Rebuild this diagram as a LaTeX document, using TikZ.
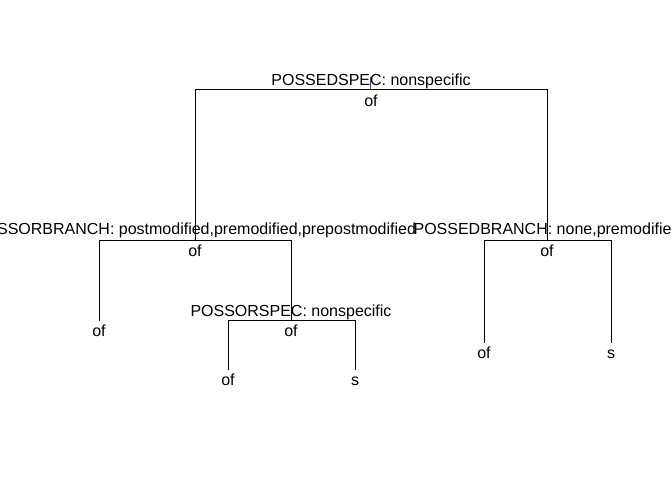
\documentclass[tikz,border=0pt]{standalone}
\usepackage{fontspec}
\setmainfont{Liberation Sans}
\definecolor{stemcol}{RGB}{100,50,150}
\begin{document}
\begin{tikzpicture}[x=1pt,y=-1pt,
  lbl/.style={anchor=base,inner sep=0pt,font=\fontsize{16}{16}\selectfont},
  edge/.style={draw=black,line width=1pt}]
\useasboundingbox (0,0) rectangle (672,480);
\clip (0,0) rectangle (672,480);
% junction coordinates
\coordinate (root) at (371,89);
\coordinate (rootstem) at (370,77);
\coordinate (rootstemb) at (370,89);
\coordinate (lc) at (195,240);
\coordinate (rc) at (547,240);
\coordinate (ll) at (99,320.5);
\coordinate (lr) at (291,320.5);
\coordinate (lrl) at (228,370);
\coordinate (lrr) at (355,370);
\coordinate (rl) at (484,343);
\coordinate (rr) at (611,343);
% connectors
\draw[edge] (root) -| (lc);
\draw[edge] (root) -| (rc);
\draw[edge] (lc) -| (ll);
\draw[edge] (lc) -| (lr);
\draw[edge] (lr) -| (lrl);
\draw[edge] (lr) -| (lrr);
\draw[edge] (rc) -| (rl);
\draw[edge] (rc) -| (rr);
\draw[draw=stemcol,line width=1pt] (rootstem) -- (rootstemb);
% labels
\node[lbl] (rootsplit) at (371,85.5) {POSSEDSPEC: nonspecific};
\node[lbl] (rootval) at (371,106.5) {of};
\node[lbl] (lcsplit) at (195,234) {POSSORBRANCH: postmodified,premodified,prepostmodified};
\node[lbl] (lcval) at (195,256.5) {of};
\node[lbl] (rcsplit) at (547,234) {POSSEDBRANCH: none,premodified};
\node[lbl] (rcval) at (547,256.5) {of};
\node[lbl] (llval) at (99,336.5) {of};
\node[lbl] (lrsplit) at (291,316) {POSSORSPEC: nonspecific};
\node[lbl] (lrval) at (291,336.5) {of};
\node[lbl] (lrlval) at (228,385.5) {of};
\node[lbl] (lrrval) at (355,385.5) {s};
\node[lbl] (rlval) at (484,358) {of};
\node[lbl] (rrval) at (611,358) {s};
\end{tikzpicture}
\end{document}
